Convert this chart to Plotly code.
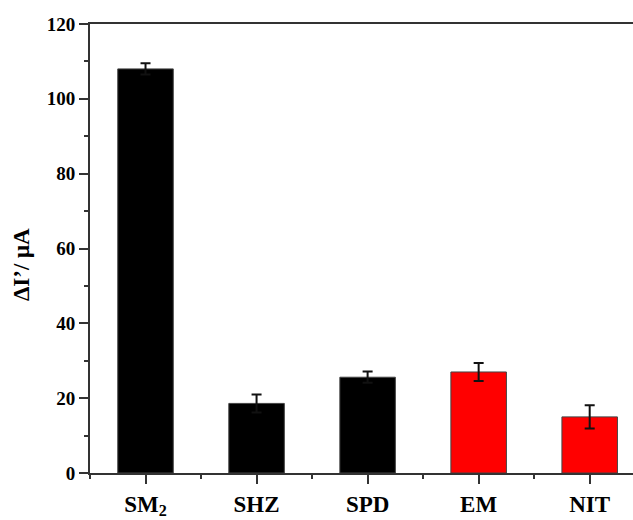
import plotly.graph_objects as go

categories = ["SM<sub>2</sub>", "SHZ", "SPD", "EM", "NIT"]
values = [108.0, 18.6, 25.6, 27.0, 15.0]
errors = [1.5, 2.4, 1.5, 2.4, 3.1]
colors = ["#000000", "#000000", "#000000", "#ff0000", "#ff0000"]
y_ticks = [0, 20, 40, 60, 80, 100, 120]
y_minor = [10, 30, 50, 70, 90, 110]

xpos = list(range(len(categories)))

fig = go.Figure()
fig.add_trace(go.Bar(
    x=xpos, y=values,
    width=0.5,
    marker=dict(color=colors, line=dict(color="#444444", width=1)),
    error_y=dict(type="data", array=errors, visible=True,
                 color="#111111", thickness=2, width=5),
    showlegend=False,
))

axis_font = dict(family="Liberation Serif, Times New Roman, serif", color="#000000")

fig.update_layout(
    width=633, height=520,
    margin=dict(l=90, r=0, t=24, b=47),
    paper_bgcolor="white", plot_bgcolor="white",
    xaxis=dict(
        range=[-0.5, 4.39],
        tickmode="array", tickvals=xpos, ticktext=categories,
        tickfont=dict(size=23, weight="bold", **axis_font),
        ticks="outside", ticklen=9, tickwidth=2, tickcolor="#333333",
        minor=dict(tickmode="array", tickvals=[x + 0.5 for x in xpos[:-1]] + [-0.5],
                   ticks="outside", ticklen=4, tickwidth=2, tickcolor="#333333"),
        showline=True, linecolor="#333333", linewidth=2, mirror=True,
        showgrid=False, zeroline=False,
    ),
    yaxis=dict(
        range=[0, 120],
        tickmode="array", tickvals=y_ticks,
        tickfont=dict(size=19, weight="bold", **axis_font),
        ticks="outside", ticklen=9, tickwidth=2, tickcolor="#333333",
        minor=dict(tickmode="array", tickvals=y_minor,
                   ticks="outside", ticklen=4, tickwidth=2, tickcolor="#333333"),
        showline=True, linecolor="#333333", linewidth=2, mirror=False,
        showgrid=False, zeroline=False,
    ),
    annotations=[dict(
        text="ΔI’/ μA", textangle=-90,
        xref="paper", yref="paper", x=0, y=0.463,
        xanchor="center", yanchor="middle", xshift=-69,
        showarrow=False,
        font=dict(size=23, weight="bold", **axis_font),
    )],
)

fig.write_html("out.html")
